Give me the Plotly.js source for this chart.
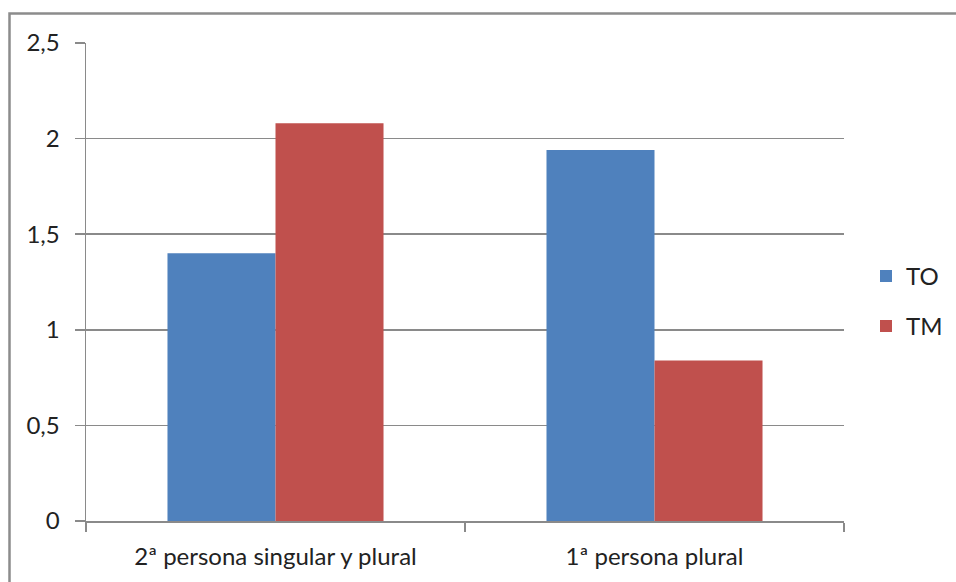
<!DOCTYPE html>
<html>
<head>
<meta charset="utf-8">
<script src="https://cdn.plot.ly/plotly-3.0.1.min.js"></script>
<style>
  html, body { margin: 0; padding: 0; background: #ffffff; }
  #chart { width: 956px; height: 582px; }
</style>
</head>
<body>
<div id="chart"></div>
<script>
// Categories and series values
const categories = ["2ª persona singular y plural", "1ª persona plural"];
const seriesNames = ["TO", "TM"];
const valuesTO = [1.40, 1.94];
const valuesTM = [2.08, 0.84];
const yTickVals = [0, 0.5, 1, 1.5, 2, 2.5];
const yTickText = ["0", "0,5", "1", "1,5", "2", "2,5"];

const W = 956, H = 582;
const M = { l: 86, r: 112, t: 43, b: 60.5, autoexpand: false };
const plotW = W - M.l - M.r;
const plotH = H - M.t - M.b;

// helpers to convert pixel positions into paper coordinates
const px = x => (x - M.l) / plotW;
const py = y => (H - M.b - y) / plotH;

const FONT = "Lato, 'Open Sans', sans-serif";
const FS = 24;
const TEXT = "#222222";
const GRID = "#8a8a8a";

const traces = [
  {
    type: "bar", name: seriesNames[0], x: categories, y: valuesTO,
    marker: { color: "#4F81BD" }, legendgroup: "a"
  },
  {
    type: "bar", name: seriesNames[1], x: categories, y: valuesTM,
    marker: { color: "#C0504D" }, legendgroup: "b"
  }
];

const layout = {
  width: W, height: H,
  margin: M,
  paper_bgcolor: "#ffffff",
  plot_bgcolor: "#ffffff",
  font: { family: FONT, size: FS, color: TEXT },
  barmode: "group",
  bargap: 0.43,
  bargroupgap: 0,
  showlegend: true,
  legend: {
    x: px(866), y: py(254), xanchor: "left", yanchor: "top",
    font: { family: FONT, size: FS, color: TEXT },
    traceorder: "grouped", tracegroupgap: 16,
    bgcolor: "rgba(0,0,0,0)", borderwidth: 0
  },
  xaxis: {
    type: "category",
    showgrid: false,
    showline: true, linecolor: GRID, linewidth: 1.5,
    ticks: "outside", tickson: "boundaries", ticklen: 9, tickcolor: GRID, tickwidth: 1.5,
    tickfont: { family: FONT, size: FS, color: TEXT },
    ticklabelstandoff: 14,
    zeroline: false,
    automargin: false
  },
  yaxis: {
    range: [0, 2.5],
    tickvals: yTickVals, ticktext: yTickText,
    showgrid: true, gridcolor: GRID, gridwidth: 1.5,
    showline: true, linecolor: GRID, linewidth: 1.5,
    ticks: "outside", ticklen: 10, tickcolor: GRID, tickwidth: 1.5,
    tickfont: { family: FONT, size: FS, color: TEXT },
    ticklabelstandoff: 10,
    zeroline: false,
    automargin: false
  },
  shapes: [
    {
      // outer chart frame
      type: "rect", xref: "paper", yref: "paper", layer: "below",
      x0: px(9.5), x1: px(W + 10), y0: py(H + 10), y1: py(13.5),
      line: { color: "#8c8c8c", width: 2.5 }, fillcolor: "rgba(0,0,0,0)"
    }
  ]
};

Plotly.newPlot("chart", traces, layout, { displayModeBar: false, staticPlot: true });
</script>
</body>
</html>
